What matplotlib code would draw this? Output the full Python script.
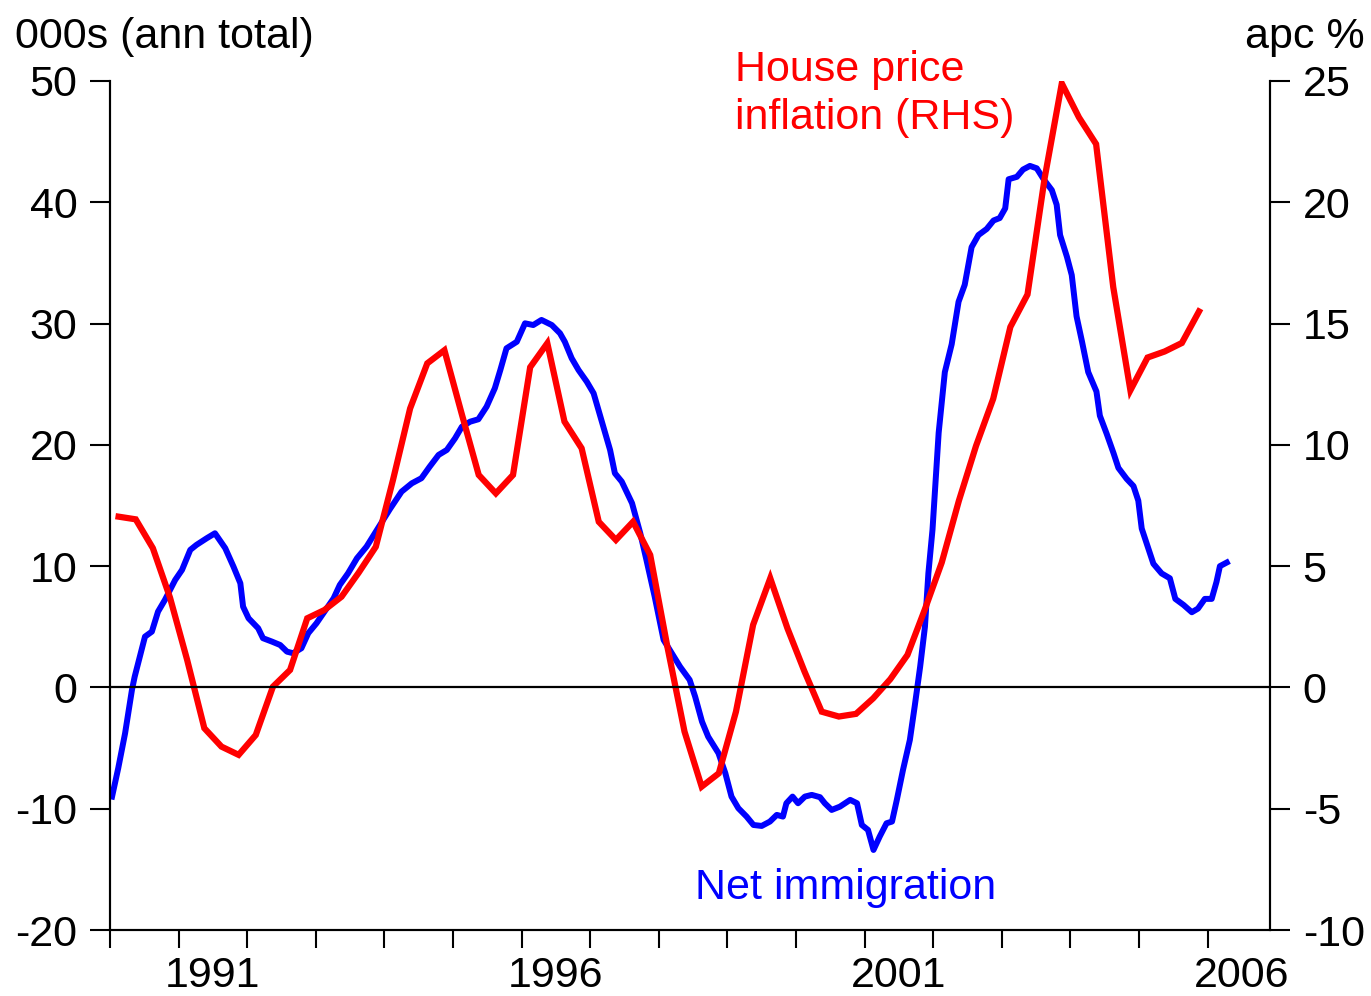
import matplotlib
matplotlib.use("Agg")
import matplotlib.pyplot as plt
from matplotlib.ticker import FixedLocator, NullFormatter, FixedFormatter

plt.rcParams['font.family'] = ['Liberation Sans', 'DejaVu Sans']

# house price inflation, apc %, quarterly (RHS)
hp_dates = [1990.125 + 0.25 * i for i in range(64)]
hp_values = [7.04, 6.93, 5.74, 3.7, 1.13, -1.68, -2.44, -2.78,
             -1.96, 0.03, 0.72, 2.85, 3.19, 3.74, 4.73, 5.8,
             8.55, 11.5, 13.36, 13.9, 11.3, 8.76, 8.0, 8.76,
             13.2, 14.19, 10.96, 9.86, 6.83, 6.08, 6.83, 5.46,
             1.68, -1.82, -4.09, -3.54, -1.0, 2.58, 4.5, 2.44,
             0.65, -1.0, -1.2, -1.09, -0.45, 0.34, 1.34, 3.19,
             5.15, 7.7, 9.96, 11.9, 14.86, 16.2, 21.0, 24.9,
             23.5, 22.4, 16.5, 12.25, 13.6, 13.85, 14.2, 15.5]

# net immigration, 000s annual total (LHS)
mig_dates = [1990.03, 1990.12, 1990.22, 1990.32, 1990.36, 1990.51, 1990.61, 1990.70,
             1990.80, 1990.95, 1991.05, 1991.17, 1991.26, 1991.41, 1991.53, 1991.68,
             1991.80, 1991.90, 1991.94, 1992.02, 1992.16, 1992.23, 1992.36, 1992.48,
             1992.58, 1992.67, 1992.79, 1992.89, 1993.01, 1993.11, 1993.26, 1993.35,
             1993.47, 1993.60, 1993.74, 1993.89, 1994.08, 1994.25, 1994.40, 1994.54,
             1994.66, 1994.79, 1994.91, 1995.03, 1995.13, 1995.25, 1995.37, 1995.49,
             1995.61, 1995.69, 1995.78, 1995.93, 1996.05, 1996.17, 1996.29, 1996.44,
             1996.56, 1996.63, 1996.73, 1996.83, 1996.95, 1997.05, 1997.12, 1997.19,
             1997.29, 1997.36, 1997.46, 1997.53, 1997.61, 1997.65, 1997.73, 1997.82,
             1997.94, 1998.07, 1998.19, 1998.31, 1998.45, 1998.53, 1998.63, 1998.72,
             1998.87, 1998.97, 1999.06, 1999.16, 1999.28, 1999.38, 1999.50, 1999.62,
             1999.72, 1999.81, 1999.86, 1999.95, 2000.03, 2000.13, 2000.23, 2000.35,
             2000.42, 2000.52, 2000.64, 2000.79, 2000.89, 2000.96, 2001.05, 2001.13,
             2001.22, 2001.32, 2001.40, 2001.47, 2001.56, 2001.66, 2001.73, 2001.81,
             2001.88, 2001.93, 2001.99, 2002.08, 2002.17, 2002.27, 2002.37, 2002.46,
             2002.56, 2002.66, 2002.78, 2002.88, 2002.97, 2003.05, 2003.10, 2003.22,
             2003.31, 2003.41, 2003.51, 2003.61, 2003.73, 2003.80, 2003.85, 2003.95,
             2004.02, 2004.09, 2004.17, 2004.26, 2004.38, 2004.43, 2004.53, 2004.63,
             2004.70, 2004.82, 2004.92, 2004.99, 2005.04, 2005.14, 2005.21, 2005.33,
             2005.45, 2005.53, 2005.65, 2005.77, 2005.86, 2005.96, 2006.06, 2006.13,
             2006.18, 2006.28]
mig_values = [-9.0, -6.66, -3.78, -0.2, 0.89, 4.19, 4.6, 6.25,
              7.21, 8.86, 9.69, 11.34, 11.75, 12.3, 12.71, 11.48,
              9.96, 8.59, 6.66, 5.7, 4.88, 4.06, 3.78, 3.5,
              2.95, 2.82, 3.23, 4.47, 5.29, 6.12, 7.35, 8.45,
              9.41, 10.65, 11.61, 12.98, 14.7, 16.14, 16.83, 17.25,
              18.2, 19.17, 19.58, 20.54, 21.5, 21.91, 22.11, 23.15,
              24.67, 26.17, 27.96, 28.5, 30.02, 29.88, 30.3, 29.88,
              29.2, 28.5, 27.14, 26.17, 25.21, 24.25, 22.88, 21.5,
              19.58, 17.66, 16.97, 16.14, 15.19, 14.36, 12.71, 10.51,
              7.49, 3.92, 2.82, 1.71, 0.62, -0.76, -2.82, -4.06,
              -5.42, -7.07, -9.0, -9.96, -10.65, -11.34, -11.42, -11.06,
              -10.51, -10.65, -9.55, -9.0, -9.55, -9.0, -8.86, -9.05,
              -9.55, -10.1, -9.83, -9.27, -9.55, -11.34, -11.75, -13.4,
              -12.3, -11.2, -11.06, -9.27, -6.8, -4.33, -1.58, 1.71,
              5.01, 9.41, 13.0, 21.0, 26.0, 28.3, 31.8, 33.2,
              36.3, 37.3, 37.8, 38.5, 38.7, 39.5, 41.9, 42.1,
              42.7, 43.0, 42.8, 41.9, 41.0, 39.8, 37.3, 35.5,
              34.0, 30.6, 28.5, 26.0, 24.4, 22.4, 20.9, 19.3,
              18.1, 17.2, 16.6, 15.4, 13.1, 11.4, 10.2, 9.4,
              9.0, 7.3, 6.8, 6.2, 6.5, 7.3, 7.3, 8.7,
              10.0, 10.3]

year_ticks = list(range(1990, 2007))
year_labels = ["1991", "1996", "2001", "2006"]
left_ticks = [-20, -10, 0, 10, 20, 30, 40, 50]
right_ticks = [-10, -5, 0, 5, 10, 15, 20, 25]

W, H = 1371, 996
fig = plt.figure(figsize=(W / 100, H / 100), dpi=100)
ax = fig.add_axes([110 / W, 1 - 930 / H, 1160 / W, 849 / H])
ax2 = ax.twinx()

ax.plot(mig_dates, mig_values, color='#0000ff', lw=4.3, solid_joinstyle='round')
ax2.plot(hp_dates, hp_values, color='#ff0000', lw=4.5, solid_joinstyle='miter')
ax2.axhline(0, color='black', lw=1.6, zorder=5)

ax.set_xlim(1990, 2006.91)
ax.set_ylim(-20, 50)
ax2.set_ylim(-10, 25)

ax.set_yticks(left_ticks)
ax.set_yticklabels([str(t) for t in left_ticks])
ax2.set_yticks(right_ticks)
ax2.set_yticklabels([str(t) for t in right_ticks])

ax.xaxis.set_major_locator(FixedLocator(year_ticks))
ax.xaxis.set_major_formatter(NullFormatter())
ax.xaxis.set_minor_locator(FixedLocator([int(y) + 0.5 for y in year_labels]))
ax.xaxis.set_minor_formatter(FixedFormatter(year_labels))

fs = 31
ax.tick_params(axis='x', which='major', direction='out', length=13, width=1.5)
ax.tick_params(axis='x', which='minor', length=0, pad=19, labelsize=fs)
ax.tick_params(axis='y', direction='out', length=14.5, width=1.5, pad=9, labelsize=fs)
ax2.tick_params(axis='y', direction='out', length=14.5, width=1.5, pad=9, labelsize=fs)

for a in (ax, ax2):
    a.spines['top'].set_visible(False)
    for s in ('left', 'right', 'bottom'):
        a.spines[s].set_linewidth(1.5)

fig.text(15 / W, 1 - 48 / H, "000s (ann total)", fontsize=fs, ha='left', va='baseline')
fig.text(1365 / W, 1 - 48 / H, "apc %", fontsize=fs, ha='right', va='baseline')
fig.text(735 / W, 1 - 81 / H, "House price", fontsize=fs, color='#ff0000',
         ha='left', va='baseline')
fig.text(735 / W, 1 - 129 / H, "inflation (RHS)", fontsize=fs, color='#ff0000',
         ha='left', va='baseline')
fig.text(695 / W, 1 - 899 / H, "Net immigration", fontsize=fs, color='#0000ff',
         ha='left', va='baseline')

fig.savefig("out.png", dpi=100)
